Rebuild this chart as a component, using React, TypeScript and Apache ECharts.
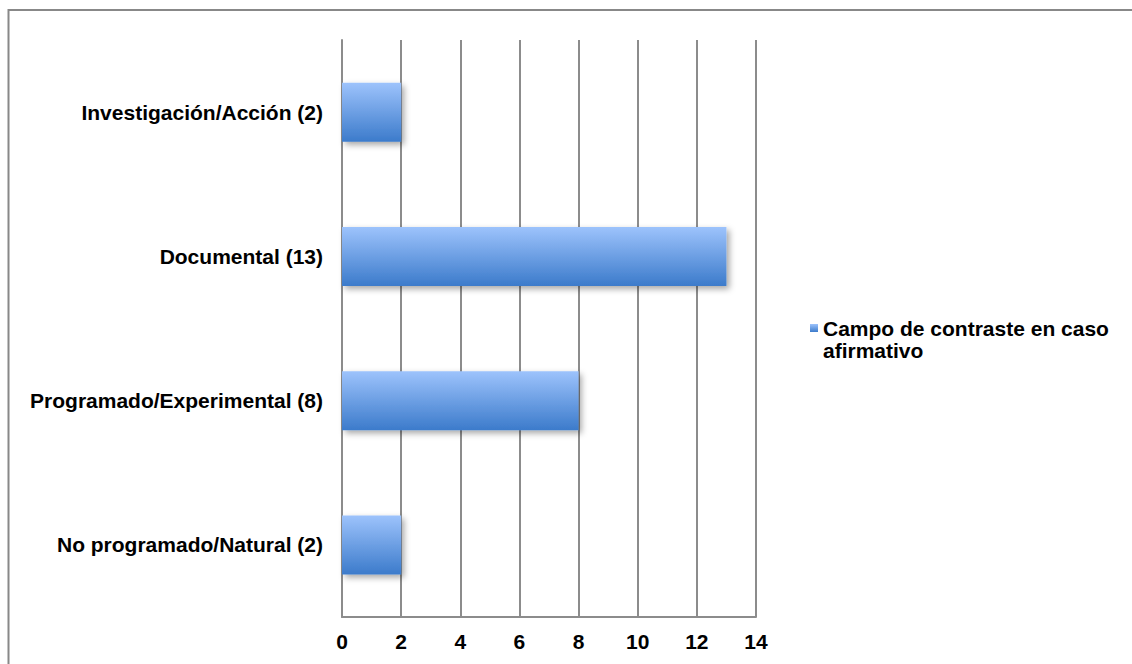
import React, { useEffect, useRef } from "react";
import * as echarts from "echarts";

const categories = [
  "No programado/Natural (2)",
  "Programado/Experimental (8)",
  "Documental (13)",
  "Investigación/Acción (2)",
];
const values = [2, 8, 13, 2];
const seriesName = "Campo de contraste en caso afirmativo";
const legendLines = ["Campo de contraste en caso", "afirmativo"];
const xTicks = { min: 0, max: 14, interval: 2 };

const FONT = "'Liberation Sans', Arial, Helvetica, sans-serif";
const GRID_COLOR = "#8c8c8c";

export default function App() {
  const ref = useRef<HTMLDivElement>(null);

  useEffect(() => {
    if (!ref.current) return;
    const chart = echarts.init(ref.current, undefined, { renderer: "svg" });
    const barFill = new echarts.graphic.LinearGradient(0, 0, 0, 1, [
      { offset: 0, color: "#9dc3fc" },
      { offset: 1, color: "#3c7bcb" },
    ]);
    chart.setOption({
      animation: false,
      backgroundColor: "#ffffff",
      grid: { left: 342, right: 376, top: 40, bottom: 47, containLabel: false },
      xAxis: {
        type: "value",
        min: xTicks.min,
        max: xTicks.max,
        interval: xTicks.interval,
        axisLine: { show: true, lineStyle: { color: GRID_COLOR, width: 2 } },
        axisTick: { show: false },
        splitLine: { show: true, lineStyle: { color: GRID_COLOR, width: 2 } },
        axisLabel: {
          color: "#000",
          fontFamily: FONT,
          fontWeight: "bold",
          fontSize: 21,
          margin: 14,
        },
      },
      yAxis: {
        type: "category",
        data: categories,
        axisLine: { show: true, lineStyle: { color: GRID_COLOR, width: 2 } },
        axisTick: { show: false },
        splitLine: { show: false },
        axisLabel: {
          color: "#000",
          fontFamily: FONT,
          fontWeight: "bold",
          fontSize: 21,
          margin: 19,
        },
      },
      legend: {
        show: true,
        left: 810,
        top: 295,
        padding: 0,
        itemWidth: 8,
        itemHeight: 8,
        icon: "rect",
        selectedMode: false,
        // leading blank line keeps the marker level with the first text line
        formatter: () => "\n" + legendLines.join("\n"),
        textStyle: {
          color: "#000",
          fontFamily: FONT,
          fontWeight: "bold",
          fontSize: 21,
          lineHeight: 22,
        },
        data: [{ name: seriesName, itemStyle: { color: barFill } }],
      },
      series: [
        {
          name: seriesName,
          type: "bar",
          data: values,
          barWidth: 59,
          itemStyle: {
            color: barFill,
            shadowColor: "rgba(0,0,0,0.35)",
            shadowBlur: 6,
            shadowOffsetX: 3,
            shadowOffsetY: 3,
          },
        },
      ],
      graphic: [
        {
          type: "rect",
          silent: true,
          shape: { x: 8.5, y: 10, width: 1200, height: 700 },
          style: { fill: "none", stroke: "#888888", lineWidth: 2 },
        },
      ],
    });
    return () => chart.dispose();
  }, []);

  return (
    <div
      ref={ref}
      style={{ position: "absolute", left: 0, top: 0, width: 1132, height: 664 }}
    />
  );
}
